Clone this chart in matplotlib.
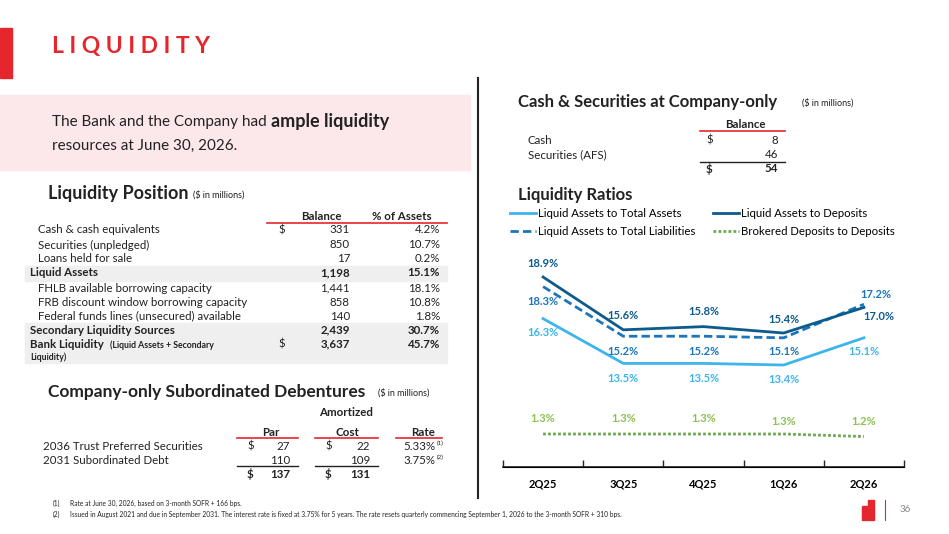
import matplotlib.pyplot as plt
from matplotlib.lines import Line2D
from matplotlib.patches import Rectangle

plt.rcParams['font.family'] = ['Lato', 'DejaVu Sans']

W, H = 949, 534

# chart data
quarters = ['2Q25', '3Q25', '4Q25', '1Q26', '2Q26']
la_total_assets = [16.3, 13.5, 13.5, 13.4, 15.1]
la_deposits = [18.9, 15.6, 15.8, 15.4, 17.0]
la_total_liab = [18.3, 15.2, 15.2, 15.1, 17.2]
brokered = [1.3, 1.3, 1.3, 1.3, 1.2]

# tables
pos_labels = ['Cash & cash equivalents', 'Securities (unpledged)', 'Loans held for sale',
              'Liquid Assets', 'FHLB available borrowing capacity',
              'FRB discount window borrowing capacity',
              'Federal funds lines (unsecured) available',
              'Secondary Liquidity Sources']
pos_balance = ['331', '850', '17', '1,198', '1,441', '858', '140', '2,439']
pos_pct = ['4.2%', '10.7%', '0.2%', '15.1%', '18.1%', '10.8%', '1.8%', '30.7%']
bank_liq = ['3,637', '45.7%']
deb_labels = ['2036 Trust Preferred Securities', '2031 Subordinated Debt']
deb_par = ['27', '110']
deb_cost = ['22', '109']
deb_rate = ['5.33%', '3.75%']
deb_totals = ['137', '131']
cash_labels = ['Cash', 'Securities (AFS)']
cash_vals = ['8', '46']
cash_total = '54'

fig = plt.figure(figsize=(W / 100, H / 100), dpi=100)
fig.patch.set_facecolor('white')


def T(x, y, s, size=8.3, **kw):
    kw.setdefault('va', 'center')
    kw.setdefault('color', '#222222')
    fig.text(x / W, 1 - y / H, s, fontsize=size, **kw)


def L(x0, x1, y0, y1, color='#e5262d', lw=1.2, **kw):
    fig.add_artist(Line2D([x0 / W, x1 / W], [1 - y0 / H, 1 - y1 / H],
                          color=color, lw=lw, transform=fig.transFigure, **kw))


def R(x, y, w, h, color):
    fig.add_artist(Rectangle((x / W, 1 - (y + h) / H), w / W, h / H,
                             color=color, transform=fig.transFigure, zorder=0))


RED = '#e5262d'
# header
R(0, 28, 12, 50, RED)
T(52, 47, 'L I Q U I D I T Y', size=16.5, color=RED, weight='bold')
R(0, 95, 470, 75, '#fce8ea')
T(52, 122, 'The Bank and the Company had', size=11)
T(271, 121, 'ample liquidity', size=13, weight='bold')
T(52, 146, 'resources at June 30, 2026.', size=11)
L(478, 478, 78, 498, color='#222222', lw=1.5)

# liquidity position table
T(48, 193, 'Liquidity Position', size=13, weight='bold')
T(193, 195, '($ in millions)', size=6.5)
T(321, 216, 'Balance', ha='center', weight='bold')
T(402, 216, '% of Assets', ha='center', weight='bold')
L(267, 447, 223, 223)
R(25, 266, 422, 15, '#efefef')
R(25, 323, 422, 40, '#efefef')
rows_y = [230, 245, 259, 273, 288, 302, 316, 330]
for i, (lab, b, p) in enumerate(zip(pos_labels, pos_balance, pos_pct)):
    bold = lab in ('Liquid Assets', 'Secondary Liquidity Sources')
    w = 'bold' if bold else 'normal'
    T(30 if bold else 38, rows_y[i], lab, weight=w)
    T(350, rows_y[i], b, ha='right', weight=w)
    T(440, rows_y[i], p, ha='right', weight=w)
T(278, 230, '$')
T(30, 344, 'Bank Liquidity', weight='bold')
T(110, 345, '(Liquid Assets + Secondary', size=6.3, weight='bold')
T(30, 357, 'Liquidity)', size=6.3, weight='bold')
T(278, 344, '$')
T(350, 344, bank_liq[0], ha='right', weight='bold')
T(440, 344, bank_liq[1], ha='right', weight='bold')

# debentures
T(48, 392, 'Company-only Subordinated Debentures', size=12.5, weight='bold')
T(378, 393, '($ in millions)', size=6.5)
T(346, 412, 'Amortized', ha='center', weight='bold')
T(271, 432, 'Par', ha='center', weight='bold')
T(347, 432, 'Cost', ha='center', weight='bold')
T(423, 432, 'Rate', ha='center', weight='bold')
for a, b in [(237, 298), (315, 378), (396, 442)]:
    L(a, b, 438, 438)
for i, y in enumerate([446, 460]):
    T(43, y, deb_labels[i])
    T(290, y, deb_par[i], ha='right')
    T(370, y, deb_cost[i], ha='right')
    T(435, y, deb_rate[i], ha='right')
    T(437, y - 3, '(%d)' % (i + 1), size=4.5)
T(247, 446, '$')
T(325, 446, '$')
L(237, 298, 466, 466, color='#222222', lw=1)
L(315, 378, 466, 466, color='#222222', lw=1)
T(247, 474, '$', weight='bold')
T(290, 474, deb_totals[0], ha='right', weight='bold')
T(325, 474, '$', weight='bold')
T(370, 474, deb_totals[1], ha='right', weight='bold')

# footnotes
T(53, 503, '(1)', size=4.8)
T(70, 503, 'Rate at June 30, 2026, based on 3-month SOFR + 166 bps.', size=4.8)
T(53, 514, '(2)', size=4.8)
T(70, 514, 'Issued in August 2021 and due in September 2031. The interest rate is fixed at 3.75% '
    'for 5 years. The rate resets quarterly commencing September 1, 2026 to the 3-month SOFR + 310 bps.',
  size=4.8)

# right top table
T(518, 102, 'Cash & Securities at Company-only', size=12, weight='bold')
T(802, 103, '($ in millions)', size=6.5)
T(745, 125, 'Balance', ha='center', weight='bold')
L(700, 785, 131, 131)
for i, y in enumerate([140, 155]):
    T(528, y, cash_labels[i])
    T(778, y, cash_vals[i], ha='right')
T(706, 140, '$')
L(700, 785, 162, 162, color='#222222', lw=1)
T(706, 169, '$', weight='bold')
T(778, 169, cash_total, ha='right', weight='bold')

T(518, 195, 'Liquidity Ratios', size=12, weight='bold')

# page number and logo mark
T(905, 510, '36', size=7, color='#888888', ha='center')
L(885, 885, 500, 520, color=RED, lw=0.8)
R(862, 506, 5, 14, RED)
R(868, 500, 6, 20, RED)

# line chart
ax = fig.add_axes([503 / W, 1 - 467 / H, 401 / W, 217 / H])
x = list(range(len(quarters)))
C_LIGHT, C_DASH, C_DARK, C_GREEN = '#3db5ec', '#1b75bb', '#0d5a8c', '#6aa84f'
l1, = ax.plot(x, la_total_assets, color=C_LIGHT, lw=2, label='Liquid Assets to Total Assets')
l2, = ax.plot(x, la_total_liab, color=C_DASH, lw=2, ls=(0, (3, 1.5)),
              label='Liquid Assets to Total Liabilities')
l3, = ax.plot(x, la_deposits, color=C_DARK, lw=2, label='Liquid Assets to Deposits')
ax.set_ylim(7.025, 20.59)
ax.set_xlim(-0.5, 4.5)
ax2 = ax.twinx()
l4, = ax2.plot(x, brokered, color=C_GREEN, lw=2, ls=(0, (1, 0.8)),
               label='Brokered Deposits to Deposits')
ax2.set_ylim(0, 8.55)


def lab(a, xs, ys, offs, color):
    for xi, yi, (dx, dy) in zip(xs, ys, offs):
        a.annotate('%.1f%%' % yi, (xi, yi), xytext=(dx, dy), textcoords='offset pixels',
                   ha='center', va='center', fontsize=8, weight='bold', color=color)


lab(ax, x, la_deposits, [(0, 14), (0, 14), (0, 15), (0, 14), (15, -9)], C_DARK)
lab(ax, x, la_total_liab, [(0, -15), (0, -15), (0, -15), (0, -14), (12, 10)], C_DASH)
lab(ax, x, la_total_assets, [(0, -14), (0, -15), (0, -15), (0, -14), (0, -14)], C_LIGHT)
lab(ax2, x, brokered, [(0, 16), (0, 16), (0, 16), (0, 13), (0, 15)], '#8cc152')

for a in (ax, ax2):
    for s in ('top', 'right', 'left'):
        a.spines[s].set_visible(False)
    a.set_yticks([])
ax.spines['bottom'].set_color('#222222')
ax.spines['bottom'].set_linewidth(1.2)
ax.set_xticks(x)
ax.set_xticklabels(quarters, fontsize=8, weight='bold')
ax.tick_params(axis='x', length=0, pad=8)
ax.set_xticks([-0.5, 0.5, 1.5, 2.5, 3.5, 4.5], minor=True)
ax.tick_params(axis='x', which='minor', direction='in', length=5, width=1, color='#222222')

fig.legend(handles=[l1, l2, l3, l4], loc='upper left', ncol=2,
           bbox_to_anchor=(510 / W, 1 - 208 / H), frameon=False, fontsize=8.2,
           handlelength=2.3, handletextpad=0.2, columnspacing=1.5, labelspacing=0.65,
           borderaxespad=0, borderpad=0)

fig.savefig('out.png', dpi=100)
